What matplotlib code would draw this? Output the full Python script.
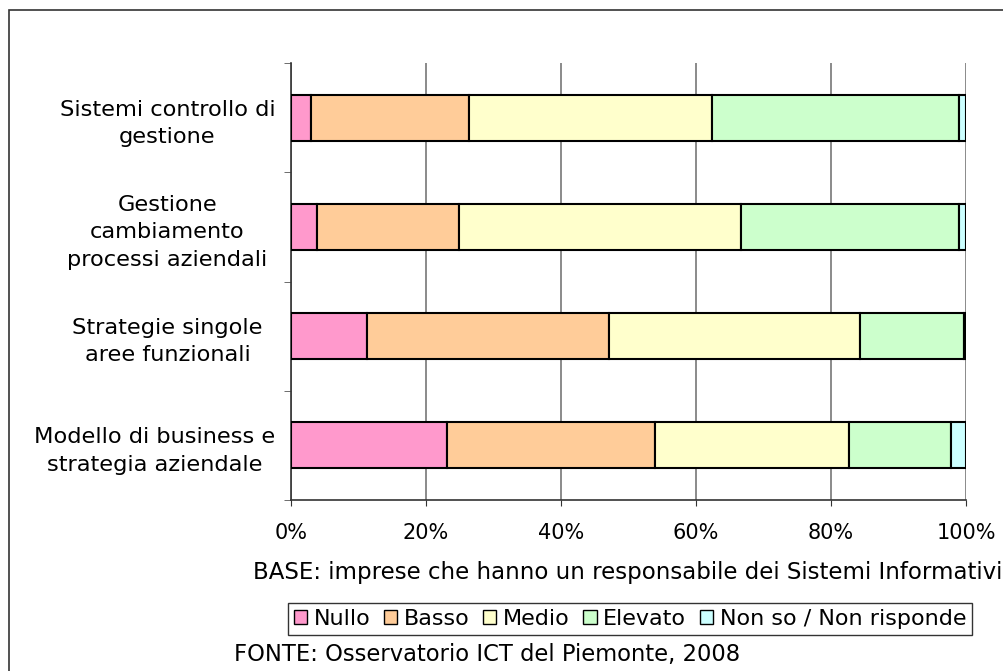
import matplotlib.pyplot as plt
import matplotlib.patches as mpatches
import matplotlib.transforms as mtransforms
import numpy as np

categories = ['Modello di business e\nstrategia aziendale',
              'Strategie singole\naree funzionali',
              'Gestione\ncambiamento\nprocessi aziendali',
              'Sistemi controllo di\ngestione']
series = ['Nullo', 'Basso', 'Medio', 'Elevato', 'Non so / Non risponde']
nullo = [23.1, 11.2, 3.8, 2.9]
basso = [30.8, 35.9, 21.1, 23.4]
medio = [28.7, 37.2, 41.7, 36.1]
elevato = [15.2, 15.4, 32.3, 36.5]
non_so = [2.2, 0.3, 1.1, 1.1]
colors = ['#FF99CC', '#FFCC99', '#FFFFCC', '#CCFFCC', '#CCFFFF']

fig = plt.figure(figsize=(10.04, 6.71), dpi=100)
ax = fig.add_axes([291/1004, 1-500/671, 675/1004, 437/671])

# outer chart frame (right/bottom edges fall outside the image)
fig.patches.append(mpatches.Rectangle((9/1004, -0.05), 1.1, 1-10/671+0.05,
                                      transform=fig.transFigure, fill=False,
                                      edgecolor='#333333', linewidth=1.2))

y = np.arange(len(categories))
left = np.zeros(len(categories))
for name, vals, c in zip(series, [nullo, basso, medio, elevato, non_so], colors):
    ax.barh(y, vals, left=left, height=0.42, color=c, edgecolor='black',
            linewidth=1.5, label=name, zorder=3)
    left += np.array(vals)

ax.set_xlim(0, 100)
ax.set_ylim(-0.5, len(categories) - 0.5)
ax.set_xticks(np.arange(0, 101, 20))
ax.set_xticklabels(['%d%%' % v for v in range(0, 101, 20)], fontsize=15)
ax.set_yticks(y)
ax.set_yticklabels(categories, fontsize=16.2, linespacing=1.45, ha='center')
ax.tick_params(axis='y', length=0, pad=89)
ax.set_yticks(np.arange(-0.5, len(categories)), minor=True)
ax.tick_params(axis='y', which='minor', length=5, color='#555555')
ax.tick_params(axis='x', length=4.5, color='#333333', pad=12)
ax.grid(axis='x', color='#777777', linewidth=1.2, zorder=0)
ax.spines['top'].set_visible(False)
ax.spines['right'].set_visible(False)
ax.spines['left'].set_color('#333333')
ax.spines['bottom'].set_color('#333333')
ax.spines['left'].set_linewidth(1.2)
ax.spines['bottom'].set_linewidth(1.2)

# the bottom label sits a little further left in the original
lab = ax.get_yticklabels()[0]
lab.set_transform(lab.get_transform() +
                  mtransforms.ScaledTranslation(-0.13, 0, fig.dpi_scale_trans))

fig.text(253/1004, 1-572/671, 'BASE: imprese che hanno un responsabile dei Sistemi Informativi',
         fontsize=16.5, va='center', ha='left')

leg = fig.legend(loc='center', bbox_to_anchor=(630/1004, 1-619/671), ncol=5,
                 prop={'size': 16},
                 handlelength=0.6, handleheight=0.6, handletextpad=0.3,
                 columnspacing=0.6, borderpad=0.25, fancybox=False,
                 edgecolor='#333333', framealpha=1)
for h in leg.legend_handles:
    h.set_linewidth(1.0)
leg.get_frame().set_linewidth(1.0)

fig.text(234/1004, 1-655/671, 'FONTE: Osservatorio ICT del Piemonte, 2008',
         fontsize=16.3, va='center', ha='left')

fig.savefig('out.png', dpi=100)
